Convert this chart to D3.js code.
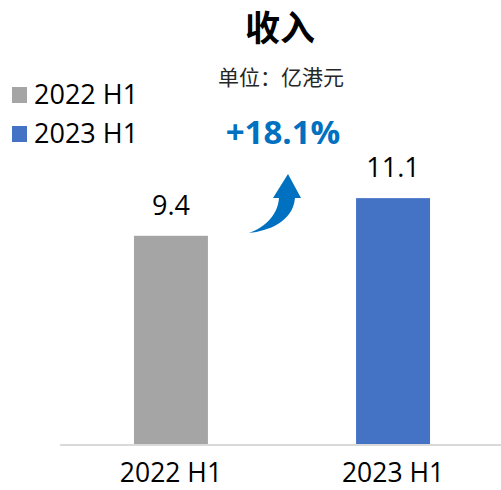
<!DOCTYPE html>
<html>
<head>
<meta charset="utf-8">
<script src="https://cdn.jsdelivr.net/npm/d3@7/dist/d3.min.js"></script>
<style>
  html, body { margin: 0; padding: 0; background: #fff; }
  svg { display: block; }
</style>
</head>
<body>
<svg id="chart" width="501" height="490"></svg>
<script>
// Revenue, first halves (unit: HK$100m)
const categories = ["2022 H1", "2023 H1"];
const values = [9.4, 11.1];
const valueLabels = ["9.4", "11.1"];
const barColors = ["#A5A5A5", "#4472C4"];
const growthLabel = "+18.1%";
const titleText = "收入";
const unitText = "单位：亿港元";

const W = 501, H = 490;
const svg = d3.select("#chart");
const latin = "'Open Sans', 'Noto Sans', sans-serif";
const cjk = "'Noto Sans CJK SC', sans-serif";

const x = d3.scaleBand()
  .domain(categories)
  .range([60, 504])
  .paddingInner(0.667)
  .paddingOuter(0.333);

const y = d3.scaleLinear()
  .domain([0, 12])
  .range([444, 444 - 12 * 22.15]);

// Title and unit
svg.append("text")
  .attr("x", 280).attr("y", 41)
  .attr("text-anchor", "middle")
  .attr("font-family", cjk)
  .attr("font-weight", "bold")
  .attr("font-size", 35)
  .attr("fill", "#000")
  .text(titleText);

svg.append("text")
  .attr("x", 281).attr("y", 85)
  .attr("text-anchor", "middle")
  .attr("font-family", cjk)
  .attr("font-size", 21)
  .attr("fill", "#262626")
  .text(unitText);

// Legend
const legend = svg.append("g");
categories.forEach((c, i) => {
  const ly = 104 + i * 39;
  legend.append("rect")
    .attr("x", 12).attr("y", ly - 17)
    .attr("width", 15).attr("height", 16)
    .attr("fill", barColors[i]);
  legend.append("text")
    .attr("x", 34).attr("y", ly)
    .attr("font-family", latin)
    .attr("font-size", 27)
    .attr("fill", "#000")
    .text(c);
});

// Bars
svg.append("g").selectAll("rect")
  .data(values)
  .join("rect")
  .attr("x", (d, i) => x(categories[i]))
  .attr("y", d => y(d))
  .attr("width", x.bandwidth())
  .attr("height", d => y(0) - y(d))
  .attr("fill", (d, i) => barColors[i]);

// Value labels
svg.append("g").selectAll("text")
  .data(values)
  .join("text")
  .attr("x", (d, i) => x(categories[i]) + x.bandwidth() / 2)
  .attr("y", d => y(d) - 21)
  .attr("text-anchor", "middle")
  .attr("font-family", latin)
  .attr("font-size", 27)
  .attr("fill", "#000")
  .text((d, i) => valueLabels[i]);

// Baseline axis
const xAxis = d3.axisBottom(x).tickSize(0).tickPadding(20);
const axisG = svg.append("g")
  .attr("transform", `translate(0,${y(0) + 1})`)
  .call(xAxis);
axisG.select(".domain")
  .attr("d", "M60,0H501")
  .attr("stroke", "#D9D9D9")
  .attr("stroke-width", 2);
axisG.selectAll(".tick text")
  .attr("font-family", latin)
  .attr("font-size", 26.5)
  .attr("fill", "#000")
  .attr("dy", null)
  .attr("y", 37);

// Growth annotation
svg.append("text")
  .attr("x", 283).attr("y", 144)
  .attr("text-anchor", "middle")
  .attr("font-family", latin)
  .attr("font-weight", "bold")
  .attr("font-size", 33)
  .attr("fill", "#0070C0")
  .text(growthLabel);

svg.append("path")
  .attr("d", "M249,233 C268,231 293,222 295,198 L301,198 L288,174 L273,198 L279,198 C278,214 266,227 249,233 Z")
  .attr("fill", "#0070C0");
</script>
</body>
</html>
